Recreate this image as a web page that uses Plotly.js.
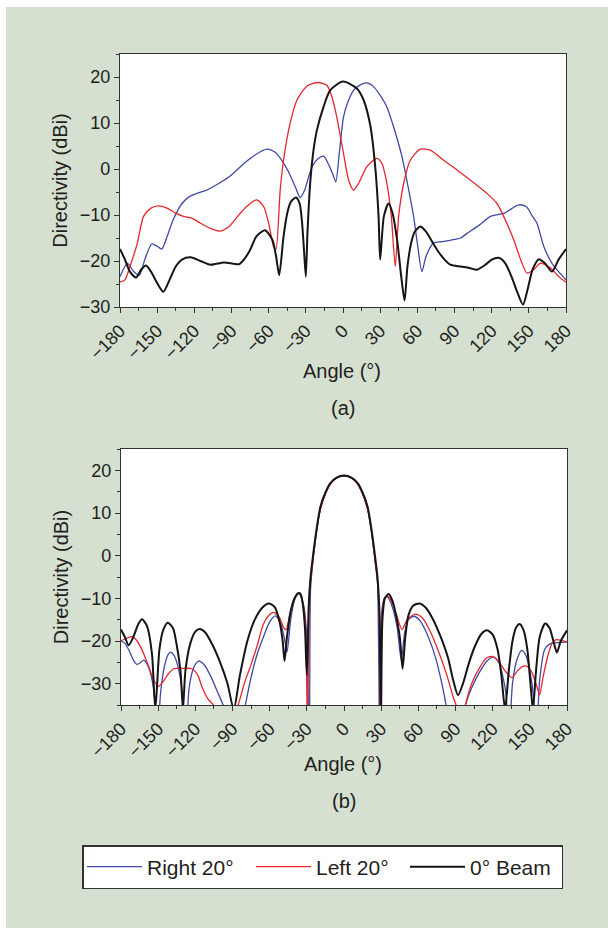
<!DOCTYPE html>
<html>
<head>
<meta charset="utf-8">
<script src="https://cdn.plot.ly/plotly-3.0.1.min.js"></script>
<style>html,body{margin:0;padding:0;background:#fff;}#chart{width:608px;height:928px;}</style>
</head>
<body>
<div id="chart"></div>
<script>
// ---------- Data (a) ----------
const seriesNames = ["Right 20°", "Left 20°", "0° Beam"];
const angleTicks = [-180,-150,-120,-90,-60,-30,0,30,60,90,120,150,180];
const angleTickText = ["−180","−150","−120","−90","−60","−30","0","30","60","90","120","150","180"];

const aRightX = [-180,-174,-169,-164.4,-160,-154.4,-150,-146.3,-142,-137,-130,-124,-118,-110,-100,-90,-80,-70,-61.5,-55,-49.4,-44,-38,-34.6,-31,-25,-20,-15.7,-12,-8,-5.8,-3,0.4,4,8.5,14,19.3,25,30,35.4,40,44,47.6,52,57,60,63.7,67,73,80,90,95,100,110,119,130,141.8,148,153,156.6,162,168.7,174,180];
const aRightY = [-23.4,-20.5,-22.3,-23.1,-19.7,-16.3,-16.8,-17.4,-14.7,-11,-7.5,-6,-5.3,-4.6,-3.1,-1.3,1.2,3.2,4.3,3.7,1.9,-0.6,-4.2,-6.2,-4.6,0.5,2.3,2.8,1.2,-1.3,-2.8,3.4,11.3,14.6,17.1,18.3,18.7,17.8,16,13.5,9.9,6.3,2.7,-3.1,-10.3,-16.1,-22.3,-19,-16.1,-15.8,-15.3,-15,-14,-12.2,-10.3,-9.6,-7.8,-8.2,-10.3,-11.8,-16.8,-20.5,-22.3,-24.1];

const aLeftX = [-180,-176,-172,-166,-161,-155,-149,-142,-135,-128.8,-122,-115,-107,-99,-92,-85,-78,-69.6,-64,-60,-56.1,-54.2,-50.7,-48,-42.7,-37.3,-29.2,-20.3,-13,-9,-5,0.4,4.5,8.5,12.6,19.3,27.4,31.4,35.4,39,42.2,44.9,49,54.3,62.4,70.4,81.2,92,102.8,116.2,124.3,129.7,137.8,144.5,148.5,153.9,159.3,167.4,174.1,180];
const aLeftY = [-24.6,-24.1,-21.2,-16.1,-10.3,-8.5,-8,-8.5,-9.6,-10.3,-10.7,-11.8,-12.9,-13.5,-12.5,-10.3,-8.2,-6.7,-8.2,-11.8,-16.8,-17.6,-4.6,1.9,9.9,14.9,18,18.8,18.2,15.7,11.3,3.4,-2.4,-4.6,-3.1,0.5,2.3,1.2,-3.1,-10.3,-21.2,-10.3,-3.1,1.9,4.3,4.1,1.9,-0.2,-2.4,-5.3,-7.5,-10.3,-15.4,-20.5,-22.6,-21.9,-20.5,-21.5,-23.4,-24.6];

const aBeamX = [-180,-176,-172,-167,-163,-159,-155,-150,-145,-140,-135,-130,-123,-115,-107,-96,-84,-80,-75,-70,-63,-57,-54,-51.5,-48,-45,-42,-38,-35,-33,-31.5,-30,-28.7,-26.5,-23.8,-21.1,-15.7,-10.4,0,11.2,16.6,22,26,28.7,30,33,36.8,40,44,47,49.7,52,55,58,62.4,67,72,76,82,86.6,95,102,108,115,120,125.7,131,136,141,145.3,149,153,158,163,168.7,174,180];
const aBeamY = [-17.4,-19.7,-22.3,-23.6,-21.9,-21,-22.3,-24.8,-26.7,-24.1,-21.2,-19.7,-19.2,-20,-20.8,-20.3,-20.7,-19.7,-17.6,-14.7,-13.3,-15.4,-19,-23.1,-14.7,-9.6,-7.1,-6.2,-7.5,-11.8,-17.6,-23.4,-14,-3.1,4.1,8.4,13.5,17.1,19,17.5,15,9.5,0.5,-10.3,-19.7,-10.3,-7.5,-9.6,-16.1,-23.4,-28.6,-21.2,-16.1,-13.6,-12.5,-13.6,-15.8,-17.6,-19.7,-20.8,-21.2,-21.5,-21.9,-20.8,-19.7,-19.3,-20.5,-23.4,-27,-29.5,-26.2,-21.9,-19.6,-20.5,-22.3,-19.7,-17.4];

// ---------- Data (b) ----------
const bRightX = [-180,-177,-173,-170,-167,-164,-161.7,-158,-155,-153,-151,-148,-145,-142,-140,-137,-134,-131,-128,-125,-121,-118,-116.5,-113,-108,-102,-97,-89,-80,-75,-70,-65,-60,-55.4,-51,-48,-46,-43,-40,-36.6,-33,-30.5,-28,-27,-25,-22,-19,-15,-11,-6,0,6,11,15,19,22,25,27,28.8,30.5,32.5,34.7,37,40,43,46.2,49,52,56.7,62,68,74,79,83,90,97,103,110,116,120.7,125,128,131,133,136,140,143.6,147,150,153,155,158,162,166.5,172,176,180];
const bRightY = [-20,-20.5,-22.5,-24.5,-25.5,-25,-24.5,-26,-29,-33,-45,-32,-26,-23.2,-22.6,-23.5,-26,-31,-45,-31,-26,-24.8,-24.7,-25.5,-28,-32,-35.5,-48,-35.5,-28.5,-23,-19,-15.5,-14.1,-16,-19.5,-22.6,-15,-10.5,-8.8,-11,-17,-45,-8,-1,6,11,14.5,16.8,18.2,18.7,18.2,16.8,14.5,11,6,-1,-6,-45,-13,-10,-9.6,-10.5,-13,-17,-24.5,-18,-15,-14.2,-15.5,-19,-24,-30,-36,-48,-36,-31,-27,-24.5,-23.7,-25,-28,-33,-45,-30,-24,-22.2,-23.5,-27,-33,-45,-29,-22,-20.6,-20.4,-20.3,-20.2];

const bLeftX = [-180,-175,-171,-167,-164,-161.7,-157,-153.6,-149.6,-146,-142,-137.5,-130,-122.7,-118,-114.6,-110,-104,-96,-86,-80,-75.6,-70,-65,-60,-56.8,-52,-48.5,-46.6,-44,-40,-36,-33,-31,-29.5,-28,-27,-25,-22,-19,-15,-11,-6,0,6,11,15,19,22,25,27,28.5,29.3,31,33,35.2,38,42,46.8,51,57.5,63,70,77,83,88,91,94,97.5,103,110,115,119.4,124,130,135.5,140,144,147.6,151,155,157.9,161,165,168,171.3,176,180];
const bLeftY = [-20,-19.3,-19,-20,-21.5,-23,-26.5,-29.2,-30.6,-29.5,-27.8,-26.5,-26.4,-26.5,-28,-30.8,-33.5,-35.5,-42,-35.5,-29.5,-26,-21,-16,-13.8,-13.3,-14.5,-17,-17.3,-14,-10,-8.8,-11.5,-17,-40,-10,-6,-1,6,11,14.5,16.8,18.2,18.7,18.2,16.8,14.5,11,6,-1,-6,-13,-40,-13,-10,-9.5,-10.5,-13.5,-17.3,-15,-13.7,-14.5,-18,-23,-28,-33,-35.5,-40,-35.5,-30,-26,-24,-23.6,-24.5,-27,-28.6,-27,-26,-25.9,-27,-30,-32.6,-28,-23,-20.5,-19.7,-19.9,-20.2];

const bBeamX = [-180,-177,-173.8,-170,-166,-163,-159,-155,-152.3,-149,-146,-142.3,-138,-135,-132,-130,-128,-124,-120,-116.5,-112,-106,-100,-94,-89,-84,-78,-72,-66,-60.8,-56,-52,-49.5,-48,-46,-43,-40,-37,-35,-33,-31.5,-30,-28.5,-27,-25,-22,-19,-15,-11,-6,0,6,11,15,19,22,25,27,28.7,29.8,31,33,36,39,42,45,47.3,49.5,52,56,61,66,72,78,84,88,92,96,101,106,111,115.4,120,124,127,130,133,136,139,141.7,145,148,150.5,152.5,155,158,162.4,166,169,171.8,175,180];
const bBeamY = [-17.3,-19,-21,-19,-16,-14.9,-16.5,-23,-36,-22,-17.5,-15.7,-17,-21,-27,-36,-27,-20.5,-17.8,-17.2,-18,-21,-25,-30,-36,-28,-20,-15,-12.2,-11.2,-12,-15.5,-20,-24.7,-19,-13,-10,-8.8,-9,-12,-17,-28,-12,-5,0,6.5,11.5,14.8,17,18.3,18.8,18.3,17,14.8,11.5,6.5,0,-5,-14,-40,-15,-10,-9,-10.5,-14,-19,-26.5,-19,-14,-11.7,-11.2,-12.2,-15,-19,-24,-29,-32.7,-30,-25,-21,-18.3,-17.5,-18.5,-22,-28,-36,-27,-20,-16.8,-16,-17.5,-22,-30,-36,-27,-19,-15.9,-17,-20,-22.7,-20,-17.5];

const colors = ["#3f4aa6", "#e8262d", "#151515"];
const widths = [1.3, 1.3, 2.0];
const legendWidths = [99, 84, 86];

// ---------- Build ----------
const txt = "#231f20";
const fontFam = "Liberation Sans, Arial, Helvetica, sans-serif";
function mk(x, y, i, xa, ya, show) {
  return {x: x, y: y, type: "scatter", mode: "lines", name: seriesNames[i],
    legendgroup: "g" + i, showlegend: show, legendwidth: legendWidths[i], xaxis: xa, yaxis: ya,
    line: {color: colors[i], width: widths[i], shape: "spline", smoothing: 0.7},
    hoverinfo: "x+y+name"};
}
const traces = [
  mk(aRightX, aRightY, 0, "x", "y", true),
  mk(aLeftX, aLeftY, 1, "x", "y", true),
  mk(aBeamX, aBeamY, 2, "x", "y", true),
  mk(bRightX, bRightY, 0, "x2", "y2", false),
  mk(bLeftX, bLeftY, 1, "x2", "y2", false),
  mk(bBeamX, bBeamY, 2, "x2", "y2", false)
];

const W = 608, H = 928;
function xAxis(l, r, anchor) {
  return {domain: [l / W, r / W], anchor: anchor, range: [-180, 180], autorange: false,
    tickmode: "array", tickvals: angleTicks, ticktext: angleTickText, tickangle: -45,
    ticks: "outside", ticklen: 5, tickwidth: 1, tickcolor: "#333",
    minor: {dtick: 15, tick0: 0, ticks: "outside", ticklen: 3, tickcolor: "#333", showgrid: false},
    showline: true, mirror: true, linecolor: "#333", linewidth: 1.3, showgrid: false, zeroline: false,
    tickfont: {family: fontFam, size: 18, color: txt},
    automargin: false, fixedrange: true};
}
function yAxis(top, bottom, lo, anchor) {
  const tv = [-30, -20, -10, 0, 10, 20];
  return {domain: [1 - bottom / H, 1 - top / H], anchor: anchor, range: [lo, 25], autorange: false,
    tickmode: "array", tickvals: tv, ticktext: tv.map(v => v < 0 ? "−" + Math.abs(v) : String(v)),
    ticks: "outside", ticklen: 5, tickwidth: 1, tickcolor: "#333",
    minor: {dtick: 5, tick0: 0, ticks: "outside", ticklen: 3, tickcolor: "#333", showgrid: false},
    showline: true, mirror: true, linecolor: "#333", linewidth: 1.3, showgrid: false, zeroline: false,
    tickfont: {family: fontFam, size: 18, color: txt},
    title: {text: "Directivity (dBi)", font: {family: fontFam, size: 20, color: txt}, standoff: 6},
    automargin: false, fixedrange: true};
}
function label(text, xpx, ypx) {
  return {text: text, xref: "paper", yref: "paper", x: xpx / W, y: 1 - ypx / H,
    xanchor: "center", yanchor: "middle", showarrow: false,
    font: {family: fontFam, size: 20, color: txt}};
}

const layout = {
  width: W, height: H, autosize: false,
  margin: {l: 0, r: 0, t: 0, b: 0, pad: 0},
  paper_bgcolor: "#d5e0d0", plot_bgcolor: "#ffffff",
  font: {family: fontFam, color: txt},
  xaxis: xAxis(120, 566, "y"),
  yaxis: yAxis(54, 307, -30, "x"),
  xaxis2: xAxis(121, 567, "y2"),
  yaxis2: yAxis(449, 705, -35, "x2"),
  showlegend: true,
  legend: {orientation: "h", x: 82 / W, y: 1 - 845 / H, xanchor: "left", yanchor: "top",
    bgcolor: "#ffffff", bordercolor: "#333", borderwidth: 1.5,
    font: {family: fontFam, size: 21, color: txt}, itemwidth: 55, itemclick: false, itemdoubleclick: false},
  shapes: [
    {type: "rect", xref: "paper", yref: "paper", x0: 0, x1: 6 / W, y0: 0, y1: 1, fillcolor: "#ffffff", line: {width: 0}, layer: "below"},
    {type: "rect", xref: "paper", yref: "paper", x0: 0, x1: 1, y0: 1 - 7 / H, y1: 1, fillcolor: "#ffffff", line: {width: 0}, layer: "below"}
  ],
  annotations: [
    label("Angle (°)", 342, 371),
    label("(a)", 343, 408),
    label("Angle (°)", 343, 764),
    label("(b)", 344, 801)
  ]
};

Plotly.newPlot("chart", traces, layout, {displayModeBar: false, responsive: false});
</script>
</body>
</html>
